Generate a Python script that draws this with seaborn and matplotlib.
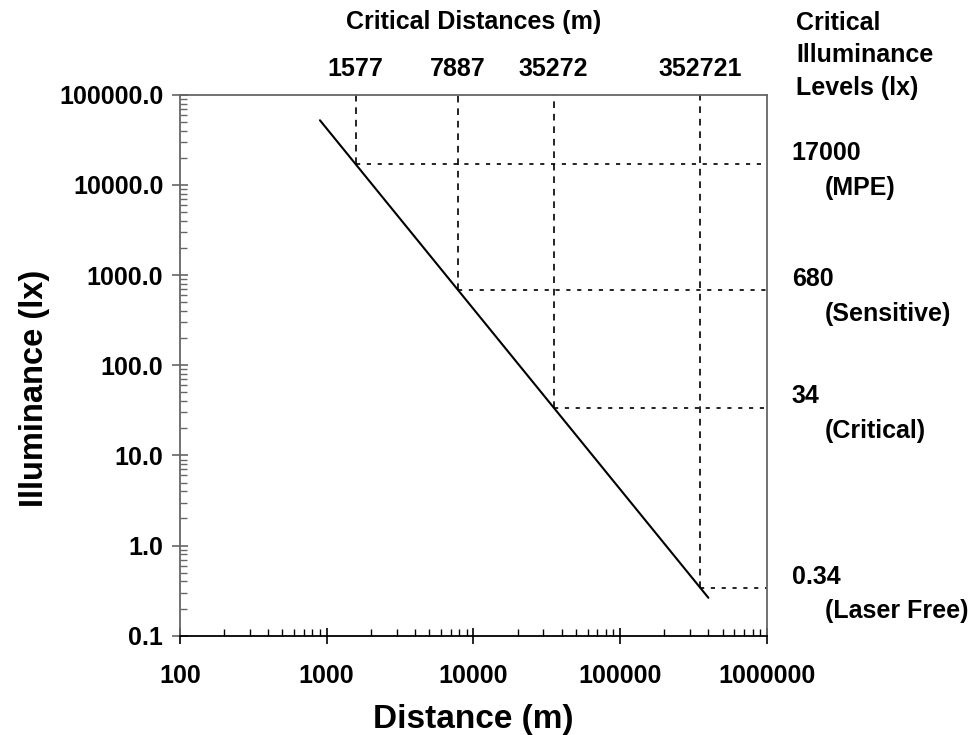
import matplotlib
matplotlib.use("Agg")
import matplotlib.pyplot as plt
import matplotlib.ticker as mticker
import seaborn as sns
import pandas as pd

# values
line_dist = [900, 400000]          # m, ends of the drawn line
line_lux = [52200, 0.264]          # lx
crit_dist = [1577, 7887, 35272, 352721]
crit_lux = [17000, 680, 34, 0.34]
crit_names = ["(MPE)", "(Sensitive)", "(Critical)", "(Laser Free)"]
crit_lux_labels = ["17000", "680", "34", "0.34"]
x_ticks = [100, 1000, 10000, 100000, 1000000]
y_ticks = [0.1, 1, 10, 100, 1000, 10000, 100000]

sns.set_style("ticks")
plt.rcParams['font.family'] = ['Liberation Sans', 'DejaVu Sans']
plt.rcParams['font.weight'] = 'bold'
plt.rcParams['text.color'] = 'black'
plt.rcParams['axes.labelcolor'] = 'black'
plt.rcParams['xtick.labelcolor'] = 'black'
plt.rcParams['ytick.labelcolor'] = 'black'

df = pd.DataFrame({'Distance (m)': line_dist, 'Illuminance (lx)': line_lux})

fig = plt.figure(figsize=(9.78, 7.35), dpi=100)
ax = fig.add_axes([0.184, 0.135, 0.600, 0.736])
sns.lineplot(data=df, x='Distance (m)', y='Illuminance (lx)', color='black', lw=1.5, ax=ax)
ax.set_xscale('log')
ax.set_yscale('log')
ax.set_xlim(100, 1000000)
ax.set_ylim(0.1, 100000)

# critical distances (dashed, from top down to the line)
ax.vlines(crit_dist, crit_lux, 100000, colors='black', linestyles=(0, (4, 3.5)), lw=1.2)
# critical levels (dotted, from the line out to the right edge)
ax.hlines(crit_lux, crit_dist, 1000000, colors='black', linestyles=(0, (2.5, 4)), lw=1.2)

fs = 18
ax.set_xticks(x_ticks)
ax.set_xticklabels([str(v) for v in x_ticks])
ax.set_yticks(y_ticks)
ax.set_yticklabels(['%.1f' % v for v in y_ticks])
ax.xaxis.set_minor_locator(mticker.LogLocator(base=10, subs=range(2, 10), numticks=20))
ax.yaxis.set_minor_locator(mticker.LogLocator(base=10, subs=range(2, 10), numticks=20))
ax.xaxis.set_minor_formatter(mticker.NullFormatter())
ax.yaxis.set_minor_formatter(mticker.NullFormatter())
ax.tick_params(axis='x', which='major', direction='inout', length=12, width=1.2, labelsize=fs,
               pad=14, color='black')
ax.tick_params(axis='x', which='minor', direction='in', length=5, width=1, color='black')
ax.tick_params(axis='y', which='major', direction='inout', length=12, width=1.2, labelsize=fs,
               color='#666666', pad=6)
ax.tick_params(axis='y', which='minor', direction='in', length=5, width=1, color='#666666')
for lab in ax.get_xticklabels() + ax.get_yticklabels():
    lab.set_fontweight('bold')

ax.set_xlabel('Distance (m)', fontsize=24, fontweight='bold', labelpad=12)
ax.set_ylabel('Illuminance (lx)', fontsize=23.5, fontweight='bold')
ax.yaxis.set_label_coords(-0.222, 0.458)

for side in ['top', 'right', 'left']:
    ax.spines[side].set_visible(True)
    ax.spines[side].set_color('#666666')
    ax.spines[side].set_linewidth(1.3)
ax.spines['bottom'].set_color('black')
ax.spines['bottom'].set_linewidth(1.3)

# top labels
for d in crit_dist:
    ax.annotate(str(d), xy=(d, 1), xycoords=('data', 'axes fraction'),
                xytext=(0, 10), textcoords='offset points', ha='center', va='bottom',
                fontsize=fs, fontweight='bold')
ax.text(0.5, 1.135, 'Critical Distances (m)', transform=ax.transAxes, ha='center',
        va='center', fontsize=fs, fontweight='bold')

# right labels
ax.text(1.05, 1.073, 'Critical\nIlluminance\nLevels (lx)', transform=ax.transAxes,
        ha='left', va='center', fontsize=fs, fontweight='bold', linespacing=1.45)
for lv, lab, name in zip(crit_lux, crit_lux_labels, crit_names):
    ax.annotate(lab, xy=(1, lv), xycoords=('axes fraction', 'data'),
                xytext=(18, 8), textcoords='offset points', ha='left', va='center',
                fontsize=fs, fontweight='bold')
    ax.annotate(name, xy=(1, lv), xycoords=('axes fraction', 'data'),
                xytext=(42, -17), textcoords='offset points', ha='left', va='center',
                fontsize=fs, fontweight='bold')

plt.savefig('out.png', dpi=100)
